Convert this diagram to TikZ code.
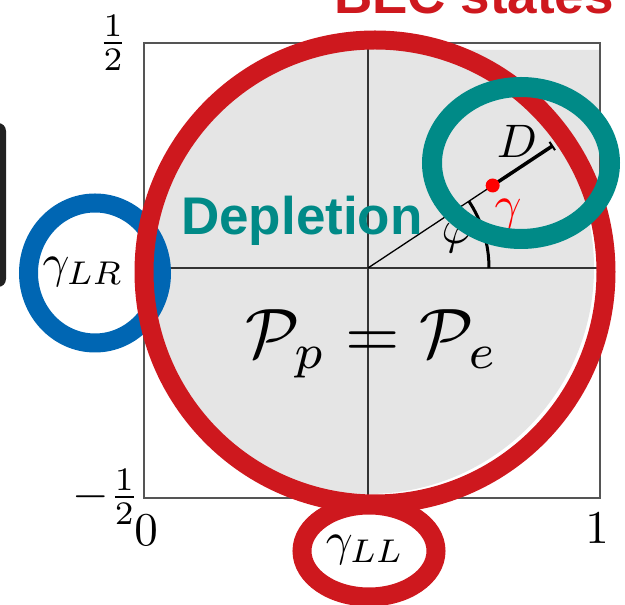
\documentclass[tikz,border=0pt]{standalone}
\usepackage{fontspec}
\setsansfont{Liberation Sans}
\usetikzlibrary{positioning,arrows.meta}
\definecolor{NoteRed}{RGB}{206,24,30}
\definecolor{NoteTeal}{RGB}{0,138,135}
\definecolor{NoteBlue}{RGB}{0,102,179}
\definecolor{DiskGray}{RGB}{229,229,229}
\definecolor{FrameGray}{RGB}{85,85,85}

\begin{document}
\begin{tikzpicture}[
    x=1pt, y=1pt,
    tick/.style={inner sep=0pt, font=\normalsize, scale=4.7},
    big/.style={inner sep=0pt, font=\normalsize, scale=7.0},
    note/.style={inner sep=0pt, font=\fontsize{53}{63}\selectfont\sffamily\bfseries},
    ring/.style={line width=19pt},
    frame/.style={draw=FrameGray, line width=1.6pt},
    axis/.style={draw=black!80, line width=1.2pt}
]
\useasboundingbox (0,0) rectangle (625,605);
\coordinate (O) at (368,337);

% slide box cut at the left edge
\fill[black!87, rounded corners=8pt] (-30,318) rectangle (6,482);

% phase plot
\fill[DiskGray] (O) circle[radius=226];
\fill[DiskGray] (448,555) -- (599,555) -- (599,375) -- cycle;
\draw[frame] (144,107) rectangle (600,562);
\draw[axis] (368,107) -- (368,562);
\draw[axis] (144,337) -- (600,337);

\node[tick] (half) at (113,562) {$\frac{1}{2}$};
\node[tick] (mhalf) at (106,108) {$-\frac{1}{2}$};
\node[tick] (zero) at (146,75) {$0$};
\node[tick] (one) at (597,77) {$1$};

% radius and angle
\path (O) ++(33.5:149.5) coordinate (dot);
\path (O) ++(33.5:222) coordinate (tip);
\draw[line width=1.3pt] (O) -- (dot);
\draw[line width=3.5pt, -{Bar[width=10pt, line width=2pt]}] (dot) -- (tip);
\draw[line width=3pt] (O) ++(121,0) arc[start angle=0, end angle=33.5, radius=121];
\fill[red] (dot) circle[radius=7];

\node[tick] (phi) at (457,367) {$\varphi$};
\node[tick, text=red] (gam) at (508,391) {$\gamma$};
\node[tick] (dlen) at (517,464) {$D$};
\node[big] (pp) at (372,261) {$\mathcal{P}_p=\mathcal{P}_e$};

% annotations
\draw[ring, draw=NoteBlue] (95,332) ellipse[x radius=66.5, y radius=70];
\draw[ring, draw=NoteRed] (375,333) ellipse[x radius=231, y radius=232];
\draw[ring, draw=NoteRed] (369,54) ellipse[x radius=67, y radius=46];
\draw[ring, line width=20pt, draw=NoteTeal] (521,442) ellipse[x radius=89, y radius=76];

\node[tick] (glr) at (83,333) {$\gamma_{LR}$};
\node[tick] (gll) at (365,55) {$\gamma_{LL}$};
\node[note, text=NoteTeal, anchor=base west] (depl) at (181,370) {Depletion};
\node[note, text=NoteRed, anchor=base west] (bec) at (334,591) {BEC states};
\end{tikzpicture}
\end{document}
